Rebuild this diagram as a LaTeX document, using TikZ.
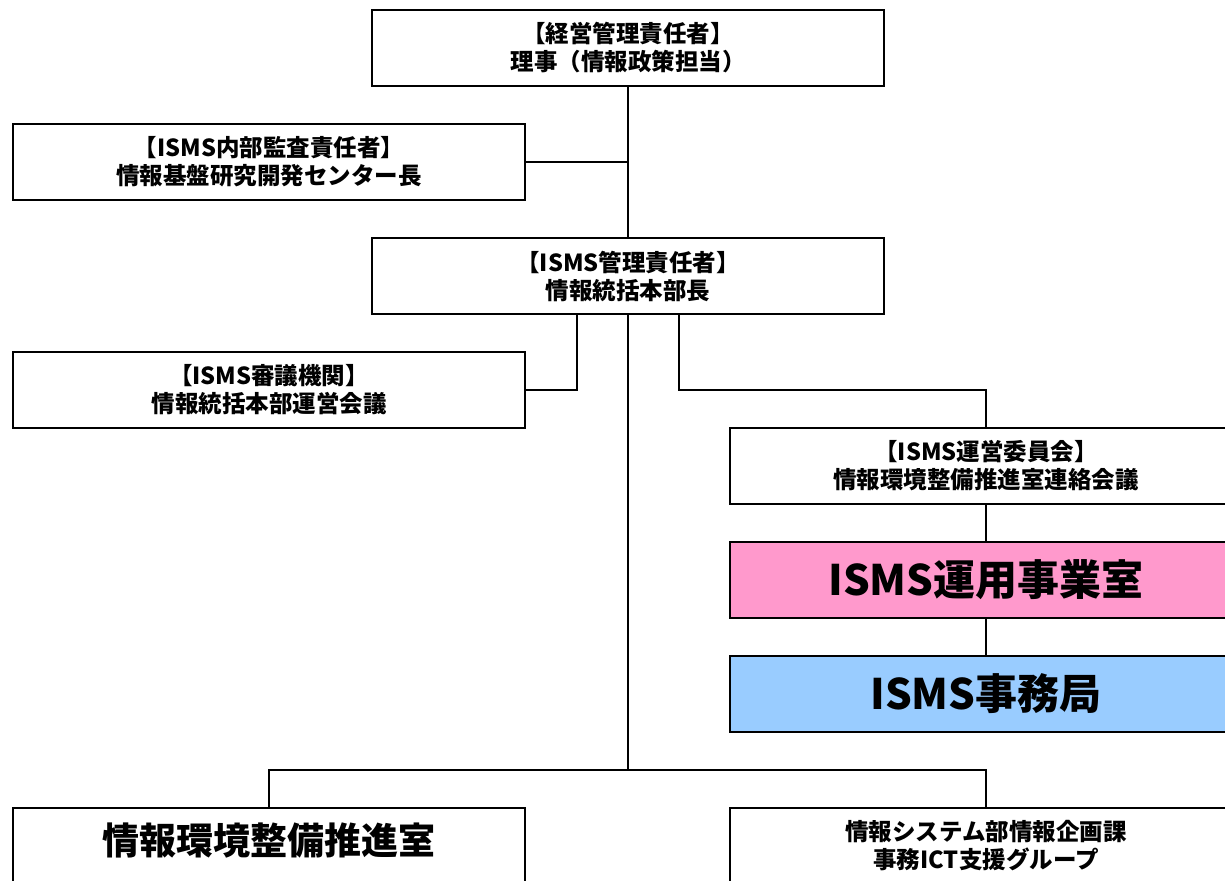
\documentclass[tikz,border=0pt]{standalone}
\usepackage{fontspec}
\setmainfont{Noto Sans CJK JP}
\definecolor{pinkfill}{HTML}{FF99CC}
\definecolor{bluefill}{HTML}{99CCFF}
\begin{document}
\begin{tikzpicture}[x=1pt,y=-1pt,
  box/.style={draw=black,line width=1.6pt,fill=white,minimum width=512pt,minimum height=76pt,
    inner sep=0pt,align=center,font=\fontsize{23.5}{28}\selectfont\bfseries},
  bigbox/.style={box,font=\fontsize{42}{48}\selectfont\bfseries},
  conn/.style={draw=black,line width=1.6pt}]
\useasboundingbox (0,0) rectangle (1225,880);
\clip (0,0) rectangle (1225,880);
\node[box] (top) at (628,48) {【経営管理責任者】\\理事（情報政策担当）};
\node[box] (audit) at (269,162) {【ISMS内部監査責任者】\\情報基盤研究開発センター長};
\node[box] (mgr) at (628,276) {【ISMS管理責任者】\\情報統括本部長};
\node[box] (council) at (269,390) {【ISMS審議機関】\\情報統括本部運営会議};
\node[box] (comm) at (986,466) {【ISMS運営委員会】\\情報環境整備推進室連絡会議};
\node[bigbox,fill=pinkfill] (ops) at (986,580) {ISMS運用事業室};
\node[bigbox,fill=bluefill] (sec) at (986,694) {ISMS事務局};
\node[box,label={[font=\fontsize{37}{42}\selectfont\bfseries,yshift=6pt]center:情報環境整備推進室}] (bl) at (269,846) {};
\node[box] (br) at (986,846) {情報システム部情報企画課\\事務ICT支援グループ};
\coordinate (j) at (628,770);
\path[conn] (top) -- (mgr);
\path[conn] (audit.east) -- (audit.east -| top.south);
\path[conn] ([xshift=-51pt]mgr.south) |- (council.east);
\path[conn] ([xshift=51pt]mgr.south) -- ++(0,75) -| (comm.north);
\path[conn] (comm) -- (ops);
\path[conn] (ops) -- (sec);
\path[conn] (mgr.south) -- (j);
\path[conn] (j) -| (bl.north);
\path[conn] (j) -| (br.north);
\end{tikzpicture}
\end{document}
